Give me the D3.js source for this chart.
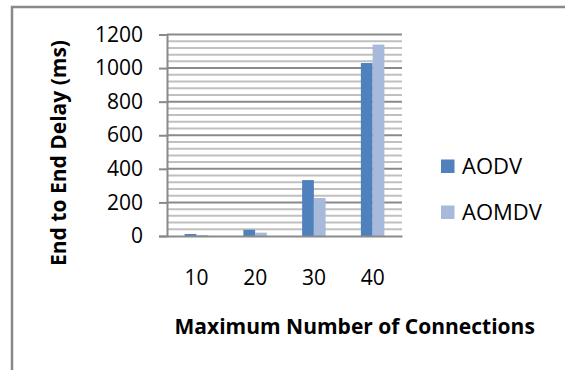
<!DOCTYPE html>
<html>
<head>
<meta charset="utf-8">
<script src="https://cdn.jsdelivr.net/npm/d3@7"></script>
<style>
  html, body { margin: 0; padding: 0; background: #fff; }
  svg { display: block; }
  text { font-family: "Open Sans", "Noto Sans", sans-serif; fill: #000; }
</style>
</head>
<body>
<svg id="chart" width="565" height="370"></svg>
<script>
// Delay measurements per connection count
const categories = ["10", "20", "30", "40"];
const seriesNames = ["AODV", "AOMDV"];
const aodv = [12, 37, 333, 1030];
const aomdv = [6, 20, 226, 1140];
const yTicks = [0, 200, 400, 600, 800, 1000, 1200];
const colors = ["#4f81bd", "#a8badb"];

const svg = d3.select("#chart");
const W = 565, H = 370;

// outer chart frame (extends past the right and bottom edges)
svg.append("rect")
  .attr("x", 12).attr("y", 7)
  .attr("width", W + 20).attr("height", H + 20)
  .attr("fill", "none").attr("stroke", "#898989").attr("stroke-width", 2.5);

const plot = { left: 167, right: 402, top: 34.5, bottom: 236 };

const y = d3.scaleLinear().domain([0, 1200]).range([plot.bottom, plot.top]);
const x0 = d3.scaleBand().domain(categories).range([plot.left, plot.right]).padding(0);
const x1 = d3.scaleBand().domain(seriesNames)
  .range([x0.bandwidth() * 0.3, x0.bandwidth() * 0.7]).padding(0);

// minor gridlines every 40
const minor = d3.range(40, 1200, 40).filter(v => v % 200 !== 0);
svg.append("g").selectAll("line").data(minor).join("line")
  .attr("x1", plot.left).attr("x2", plot.right)
  .attr("y1", d => y(d)).attr("y2", d => y(d))
  .attr("stroke", "#c0c0c0").attr("stroke-width", 2);

// major gridlines
svg.append("g").selectAll("line").data(yTicks.filter(v => v > 0)).join("line")
  .attr("x1", plot.left).attr("x2", plot.right)
  .attr("y1", d => y(d)).attr("y2", d => y(d))
  .attr("stroke", "#8a8a8a").attr("stroke-width", 2);

// bars
const rows = categories.map((c, i) => ({ cat: c, vals: [aodv[i], aomdv[i]] }));
svg.append("g").selectAll("g").data(rows).join("g")
  .attr("transform", d => `translate(${x0(d.cat)},0)`)
  .selectAll("rect").data(d => d.vals.map((v, k) => ({ name: seriesNames[k], v, k })))
  .join("rect")
  .attr("x", d => x1(d.name))
  .attr("width", x1.bandwidth())
  .attr("y", d => y(d.v))
  .attr("height", d => y(0) - y(d.v))
  .attr("fill", d => colors[d.k]);

// y axis
const yAxis = d3.axisLeft(y).tickValues(yTicks).tickFormat(d3.format("d"))
  .tickSize(8).tickPadding(16);
const gy = svg.append("g").attr("transform", `translate(${plot.left},0)`).call(yAxis);
gy.select(".domain").attr("stroke", "#8a8a8a").attr("stroke-width", 2);
gy.selectAll(".tick line").attr("stroke", "#8a8a8a").attr("stroke-width", 2);
gy.selectAll(".tick text").attr("font-size", 21).attr("font-family", "Open Sans").attr("fill", "#000");

// x axis
const xAxis = d3.axisBottom(x0).tickSize(0).tickPadding(34);
const gx = svg.append("g").attr("transform", `translate(0,${plot.bottom})`).call(xAxis);
gx.select(".domain").attr("stroke", "#8a8a8a").attr("stroke-width", 2);
gx.selectAll(".tick text").attr("font-size", 21).attr("font-family", "Open Sans").attr("fill", "#000");

// axis titles
svg.append("text")
  .attr("x", 354.7).attr("y", 334.3)
  .attr("text-anchor", "middle")
  .attr("font-size", 21).attr("font-weight", "bold")
  .text("Maximum Number of Connections");

svg.append("text")
  .attr("transform", "translate(65.5,153) rotate(-90)")
  .attr("text-anchor", "middle")
  .attr("font-size", 21).attr("font-weight", "bold")
  .text("End to End Delay (ms)");

// legend
const legend = svg.append("g").selectAll("g").data(seriesNames).join("g")
  .attr("transform", (d, i) => `translate(441,${159.5 + i * 46})`);
legend.append("rect").attr("width", 13.5).attr("height", 13.5)
  .attr("fill", (d, i) => colors[i]);
legend.append("text").attr("x", 21).attr("y", 14)
  .attr("font-size", 22).text(d => d);
</script>
</body>
</html>
